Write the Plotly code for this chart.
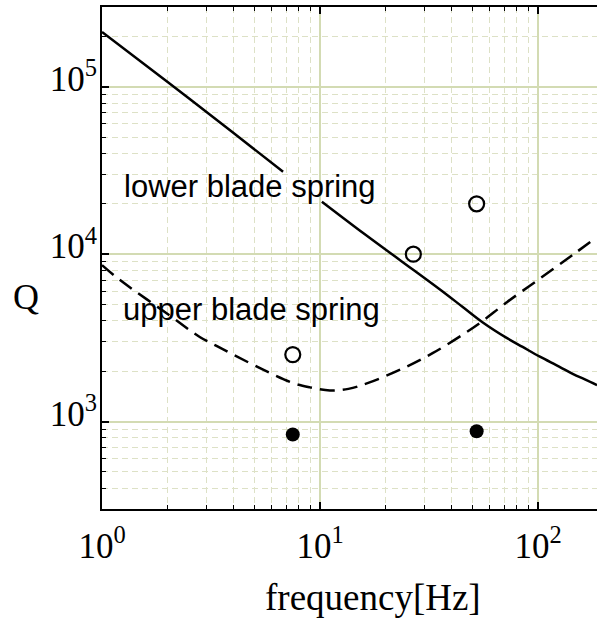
import plotly.graph_objects as go

# ---- data ----
freq_lower = [1.0, 2.0, 4.0, 6.77, None, 10.2, 16.0, 23.3, 35.5, 45.0, 55.2, 71.8, 85.0, 102, 125, 145, 165, 186.5]
q_lower = [2.13e5, 1.07e5, 5.31e4, 3.11e4, None, 2.06e4, 1.32e4, 9210, 6150, 4850, 3950, 3160, 2790, 2440, 2130, 1920, 1780, 1650]

freq_upper = [1.0, 1.21, 2.0, 2.82, 3.3, 4.0, 5.7, 7.5, 9.0, 11.1, 13.5, 16.4, 23.3, 33, 47, 55.2, 71.8, 102, 145, 186.5]
q_upper = [8600, 7000, 4390, 3190, 2860, 2510, 1990, 1700, 1600, 1531, 1567, 1690, 2040, 2570, 3420, 3950, 5150, 7150, 9950, 12680]

freq_open = [7.5, 26.8, 52.3]
q_open = [2510, 10000, 20000]

freq_filled = [7.5, 52.3]
q_filled = [836, 875]

x_ticks = [1, 10, 100]
x_ticktext = ["10<sup>0</sup>", "10<sup>1</sup>", "10<sup>2</sup>"]
y_ticks = [1e3, 1e4, 1e5]
y_ticktext = ["10<sup>3</sup>", "10<sup>4</sup>", "10<sup>5</sup>"]

SERIF = "Liberation Serif"
SANS = "Liberation Sans"
MAJOR_GRID = "#d3dbb3"
MINOR_GRID = "#dde1c6"

fig = go.Figure()
fig.add_trace(go.Scatter(x=freq_lower, y=q_lower, mode="lines",
                         line=dict(color="black", width=2.5, shape="spline", smoothing=1.0),
                         connectgaps=False, showlegend=False))
fig.add_trace(go.Scatter(x=freq_upper, y=q_upper, mode="lines",
                         line=dict(color="black", width=2.5, dash="15px,8px", shape="spline", smoothing=1.0),
                         showlegend=False))
fig.add_trace(go.Scatter(x=freq_open, y=q_open, mode="markers",
                         marker=dict(symbol="circle-open", size=15, color="black", line=dict(width=2.2)),
                         showlegend=False))
fig.add_trace(go.Scatter(x=freq_filled, y=q_filled, mode="markers",
                         marker=dict(symbol="circle", size=14, color="black"),
                         showlegend=False))

fig.update_layout(
    width=597, height=619, autosize=False,
    margin=dict(l=102, r=0, t=7, b=110),
    paper_bgcolor="white", plot_bgcolor="white",
    font=dict(family=SERIF, color="black"),
    xaxis=dict(type="log", range=[0, 2.2706], tickmode="array", tickvals=x_ticks, ticktext=x_ticktext,
               tickfont=dict(family=SERIF, size=35, color="black"),
               ticks="inside", ticklen=7, tickwidth=1.5, tickcolor="black",
               showline=True, linecolor="black", linewidth=2, mirror="ticks",
               showgrid=True, gridcolor=MAJOR_GRID, gridwidth=1.5,
               minor=dict(dtick="D1", ticks="inside", ticklen=4, tickwidth=1, tickcolor="black",
                          showgrid=True, gridcolor=MINOR_GRID, gridwidth=1, griddash="6px,4px"),
               zeroline=False, ticklabelstandoff=5),
    yaxis=dict(type="log", range=[2.4771, 5.4771], tickmode="array", tickvals=y_ticks, ticktext=y_ticktext,
               tickfont=dict(family=SERIF, size=35, color="black"),
               ticks="inside", ticklen=7, tickwidth=1.5, tickcolor="black",
               showline=True, linecolor="black", linewidth=2, mirror=False,
               showgrid=True, gridcolor=MAJOR_GRID, gridwidth=1.5,
               minor=dict(dtick="D1", ticks="inside", ticklen=4, tickwidth=1, tickcolor="black",
                          showgrid=True, gridcolor=MINOR_GRID, gridwidth=1, griddash="6px,4px"),
               zeroline=False, ticklabelstandoff=-4, ticklabelshift=-8),
)

fig.add_annotation(text="lower blade spring", xref="x", yref="y", x=0.679, y=4.403,
                   showarrow=False, font=dict(family=SANS, size=31, color="black"),
                   xanchor="center", yanchor="middle")
fig.add_annotation(text="upper blade spring", xref="x", yref="y", x=0.688, y=3.672,
                   showarrow=False, font=dict(family=SANS, size=31, color="black"),
                   xanchor="center", yanchor="middle")
fig.add_annotation(text="Q", xref="paper", yref="paper", x=-0.154, y=0.422,
                   showarrow=False, font=dict(family=SERIF, size=36, color="black"),
                   xanchor="center", yanchor="middle")
fig.add_annotation(text="frequency[Hz]", xref="paper", yref="paper", x=0.548, y=-0.177,
                   showarrow=False, font=dict(family=SERIF, size=37, color="black"),
                   xanchor="center", yanchor="middle")

fig.write_html("out.html")
